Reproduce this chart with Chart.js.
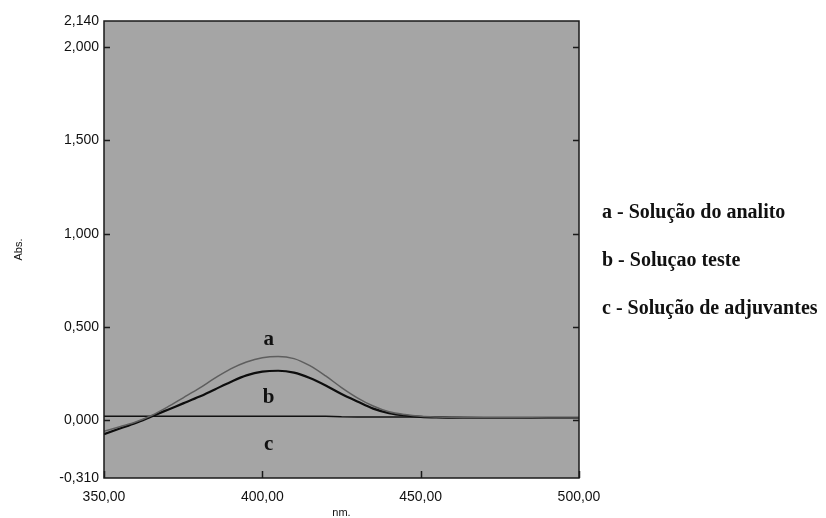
<!DOCTYPE html>
<html>
<head>
<meta charset="utf-8">
<script src="https://cdn.jsdelivr.net/npm/chart.js@4"></script>
<style>
  html, body { margin: 0; padding: 0; background: #fff; }
  #wrap { width: 826px; height: 518px; position: relative; }
</style>
</head>
<body>
<div id="wrap"><canvas id="chart" width="826" height="518"></canvas></div>
<script>
const wavelengths = [350, 355, 360, 365, 370, 375, 380, 385, 390, 395, 400, 405, 410, 415, 420, 425, 430, 435, 440, 445, 450, 455, 460, 470, 480, 490, 500];
const absA = [-0.060, -0.035, -0.010, 0.025, 0.070, 0.120, 0.170, 0.225, 0.275, 0.312, 0.335, 0.342, 0.330, 0.292, 0.237, 0.175, 0.120, 0.076, 0.045, 0.030, 0.021, 0.017, 0.015, 0.013, 0.013, 0.012, 0.012];
const absB = [-0.075, -0.045, -0.015, 0.020, 0.055, 0.090, 0.125, 0.165, 0.205, 0.240, 0.260, 0.265, 0.255, 0.226, 0.186, 0.140, 0.100, 0.062, 0.038, 0.025, 0.018, 0.015, 0.014, 0.013, 0.013, 0.012, 0.012];
const absC = [0.021, 0.021, 0.021, 0.021, 0.021, 0.021, 0.021, 0.021, 0.021, 0.021, 0.021, 0.021, 0.021, 0.021, 0.021, 0.018, 0.017, 0.017, 0.017, 0.017, 0.017, 0.016, 0.013, 0.012, 0.012, 0.012, 0.012];

const xTicks = [350, 400, 450, 500];
const yTicks = [-0.31, 0, 0.5, 1.0, 1.5, 2.0, 2.14];
const yMarks = [0, 0.5, 1.0, 1.5, 2.0]; // pequenos traços no eixo

const curveLabels = [
    { text: 'a', x: 402, y: 0.43 },
    { text: 'b', x: 402, y: 0.12 },
    { text: 'c', x: 402, y: -0.13 }
];
const legendLines = ['a - Solução do analito', 'b - Soluçao teste', 'c - Solução de adjuvantes'];

const toPoints = (ys) => wavelengths.map((w, i) => ({ x: w, y: ys[i] }));
const fmt = (v, d) => v.toFixed(d).replace('.', ',');
const sansFont = '"Liberation Sans", Arial, sans-serif';

// Fundo cinza, moldura, traços e textos
const framePlugin = {
    id: 'frame',
    beforeDraw(chart) {
        const { ctx, chartArea: a } = chart;
        ctx.save();
        ctx.fillStyle = '#a5a5a5';
        ctx.fillRect(a.left, a.top, a.right - a.left, a.bottom - a.top);
        ctx.restore();
    },
    afterDatasetsDraw(chart) {
        const { ctx, chartArea: a, scales } = chart;
        ctx.save();
        ctx.strokeStyle = '#1a1a1a';
        ctx.lineWidth = 1.5;
        ctx.strokeRect(a.left, a.top, a.right - a.left, a.bottom - a.top);

        yMarks.forEach(v => {
            const py = Math.round(scales.y.getPixelForValue(v)) + 0.5;
            ctx.beginPath();
            ctx.moveTo(a.left, py); ctx.lineTo(a.left + 6, py);
            ctx.moveTo(a.right, py); ctx.lineTo(a.right - 6, py);
            ctx.stroke();
        });
        xTicks.forEach(v => {
            const px = Math.round(scales.x.getPixelForValue(v)) + 0.5;
            ctx.beginPath();
            ctx.moveTo(px, a.bottom); ctx.lineTo(px, a.bottom - 7);
            ctx.stroke();
        });

        ctx.fillStyle = '#111';
        ctx.textAlign = 'center';
        ctx.textBaseline = 'middle';
        ctx.font = 'bold 21px "Liberation Serif", "Times New Roman", serif';
        curveLabels.forEach(l => {
            ctx.fillText(l.text, scales.x.getPixelForValue(l.x), scales.y.getPixelForValue(l.y));
        });

        ctx.textAlign = 'left';
        ctx.font = 'bold 20px "Liberation Serif", "Times New Roman", serif';
        legendLines.forEach((t, i) => {
            ctx.fillText(t, 602, 213 + i * 48);
        });
        ctx.restore();
    }
};

new Chart(document.getElementById('chart'), {
    type: 'line',
    data: {
        datasets: [
            { label: 'a', data: toPoints(absA), borderColor: '#5e5e5e', borderWidth: 1.5, pointRadius: 0, tension: 0.4, cubicInterpolationMode: 'monotone' },
            { label: 'b', data: toPoints(absB), borderColor: '#0d0d0d', borderWidth: 2.2, pointRadius: 0, tension: 0.4, cubicInterpolationMode: 'monotone' },
            { label: 'c', data: toPoints(absC), borderColor: '#111', borderWidth: 1.5, pointRadius: 0, tension: 0 }
        ]
    },
    options: {
        responsive: false,
        animation: false,
        layout: { padding: { top: 21, right: 247, left: 0, bottom: 0 } },
        plugins: { legend: { display: false }, tooltip: { enabled: false } },
        scales: {
            x: {
                type: 'linear',
                min: 350, max: 500,
                afterBuildTicks: (s) => { s.ticks = xTicks.map(v => ({ value: v })); },
                afterFit: (s) => { s.height = 40; },
                grid: { display: false, drawTicks: false },
                border: { display: false },
                ticks: { padding: 11, color: '#111', font: { family: sansFont, size: 14 }, maxRotation: 0, callback: (v) => fmt(v, 2) },
                title: { display: true, text: 'nm.', color: '#111', font: { family: sansFont, size: 11 }, padding: { top: 0, bottom: -2 } }
            },
            y: {
                type: 'linear',
                min: -0.31, max: 2.14,
                afterBuildTicks: (s) => { s.ticks = yTicks.map(v => ({ value: v })); },
                afterFit: (s) => { s.width = 104; },
                grid: { display: false, drawTicks: false },
                border: { display: false },
                ticks: { padding: 5, color: '#111', font: { family: sansFont, size: 14 }, callback: (v) => fmt(v, 3) },
                title: { display: true, text: 'Abs.', color: '#111', font: { family: sansFont, size: 11 }, padding: { top: 12, bottom: 0 } }
            }
        }
    },
    plugins: [framePlugin]
});
</script>
</body>
</html>
